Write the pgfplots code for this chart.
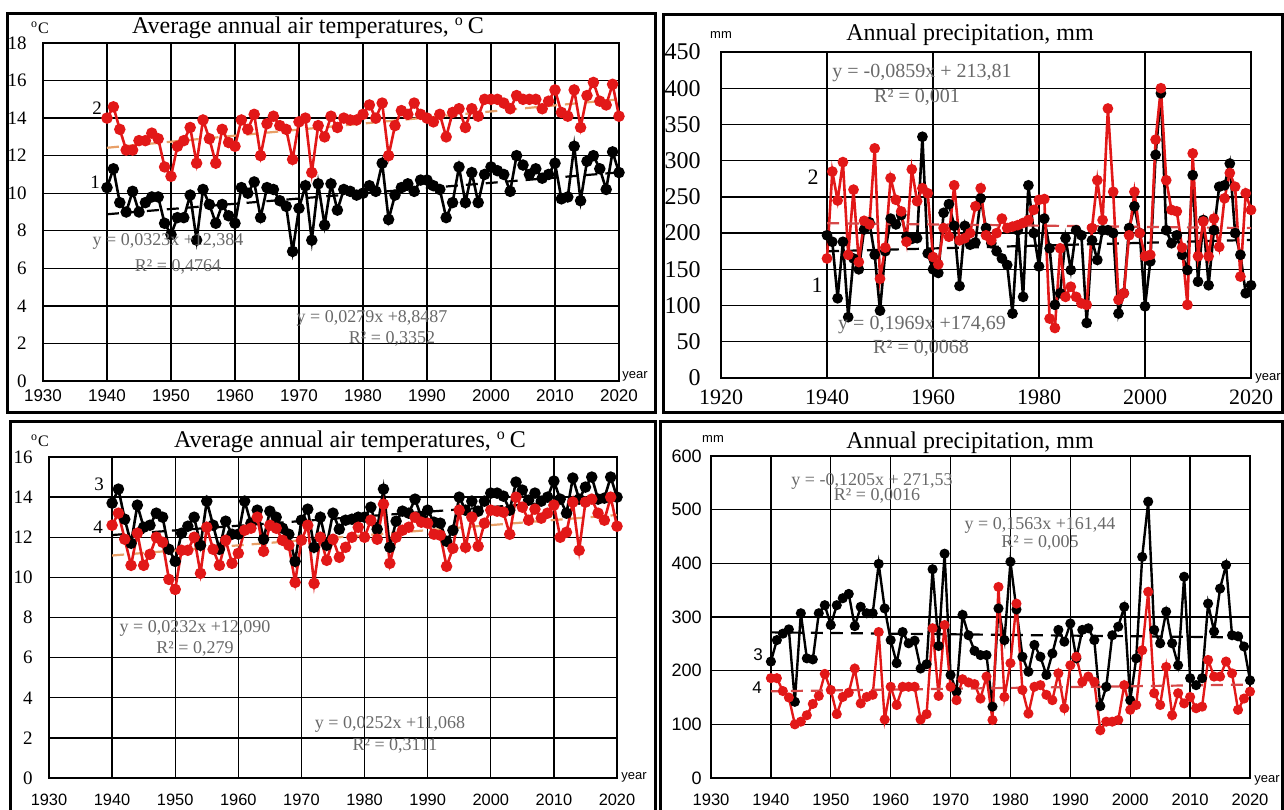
\documentclass[border=0pt]{standalone}
\usepackage{fontspec}
\setmainfont{Liberation Serif}
\newfontfamily\sansf{Liberation Sans}
\usepackage{pgfplots}
\pgfplotsset{compat=1.18}
\usepackage{pgfplotstable}
\definecolor{dred}{RGB}{226,24,24}
\definecolor{trendor}{RGB}{232,160,104}
\definecolor{trendred}{RGB}{214,72,72}
\definecolor{eqgray}{RGB}{105,105,105}

\pgfplotstableread{
year b r
1940 10.3 14.0
1941 11.3 14.6
1942 9.5 13.4
1943 9.0 12.3
1944 10.1 12.3
1945 9.0 12.8
1946 9.5 12.8
1947 9.8 13.2
1948 9.8 12.9
1949 8.4 11.4
1950 7.8 10.9
1951 8.7 12.5
1952 8.7 12.8
1953 9.9 13.5
1954 7.5 11.6
1955 10.2 13.9
1956 9.4 12.9
1957 8.4 11.6
1958 9.4 13.4
1959 8.8 12.7
1960 8.4 12.5
1961 10.3 13.9
1962 10.0 13.4
1963 10.6 14.2
1964 8.7 12.0
1965 10.3 13.7
1966 10.2 14.1
1967 9.6 13.6
1968 9.3 13.4
1969 6.9 11.8
1970 9.2 13.8
1971 10.4 14.0
1972 7.5 11.1
1973 10.5 13.6
1974 8.3 13.0
1975 10.5 14.1
1976 9.1 13.5
1977 10.2 14.0
1978 10.1 13.9
1979 9.9 13.9
1980 10.0 14.2
1981 10.4 14.7
1982 10.1 14.0
1983 11.6 14.8
1984 8.6 12.0
1985 9.9 13.6
1986 10.3 14.4
1987 10.5 14.2
1988 10.1 14.8
1989 10.7 14.2
1990 10.7 14.0
1991 10.4 13.8
1992 10.2 14.2
1993 8.7 13.0
1994 9.5 14.3
1995 11.4 14.5
1996 9.5 13.5
1997 11.1 14.5
1998 9.5 14.1
1999 11.0 15.0
2000 11.4 15.0
2001 11.2 15.0
2002 11.0 14.8
2003 10.1 14.5
2004 12.0 15.2
2005 11.5 15.0
2006 11.0 15.0
2007 11.3 15.0
2008 10.8 14.5
2009 11.0 14.9
2010 11.6 15.5
2011 9.7 14.3
2012 9.8 14.1
2013 12.5 15.5
2014 9.6 13.5
2015 11.7 15.2
2016 12.0 15.9
2017 11.3 14.9
2018 10.2 14.7
2019 12.2 15.8
2020 11.1 14.1
}\tabTL

\pgfplotstableread{
year b r
1940 197 165
1941 188 285
1942 110 245
1943 188 298
1944 84 170
1945 165 260
1946 150 160
1947 205 217
1948 215 212
1949 170 317
1950 93 137
1951 175 180
1952 220 276
1953 212 246
1954 225 230
1955 195 188
1956 192 288
1957 193 244
1958 333 262
1959 172 255
1960 150 167
1961 145 157
1962 228 207
1963 240 195
1964 210 266
1965 127 190
1966 210 193
1967 184 200
1968 187 237
1969 248 262
1970 207 197
1971 186 190
1972 175 200
1973 165 220
1974 156 207
1975 89 209
1976 204 211
1977 112 214
1978 266 218
1979 200 232
1980 154 246
1981 220 247
1982 179 82
1983 101 69
1984 117 179
1985 193 112
1986 149 126
1987 204 112
1988 197 103
1989 76 101
1990 190 207
1991 163 273
1992 204 218
1993 204 372
1994 200 257
1995 89 108
1996 117 117
1997 207 197
1998 237 257
1999 200 200
2000 99 168
2001 161 170
2002 308 329
2003 393 400
2004 204 273
2005 186 232
2006 197 230
2007 170 180
2008 149 101
2009 280 310
2010 133 168
2011 218 216
2012 128 168
2013 204 220
2014 264 181
2015 266 248
2016 296 283
2017 200 264
2018 170 140
2019 117 255
2020 128 232
}\tabTR

\pgfplotstableread{
year b r
1940 13.7 12.6
1941 14.4 13.2
1942 12.9 11.9
1943 11.7 10.6
1944 13.6 12.2
1945 12.5 10.6
1946 12.6 11.15
1947 13.2 12.0
1948 13.0 11.75
1949 11.4 9.9
1950 10.8 9.4
1951 12.2 11.35
1952 12.55 11.35
1953 13.0 12.0
1954 11.6 10.2
1955 13.8 12.5
1956 12.6 11.4
1957 11.4 10.6
1958 12.8 11.85
1959 12.15 10.7
1960 12.15 11.2
1961 13.8 12.35
1962 12.7 12.45
1963 13.35 13.0
1964 11.9 11.3
1965 13.3 12.6
1966 13.0 12.45
1967 12.45 11.85
1968 12.15 11.6
1969 10.8 9.75
1970 12.85 11.85
1971 13.4 12.6
1972 11.5 9.7
1973 13.0 12.0
1974 11.6 10.85
1975 13.2 11.9
1976 12.4 11.0
1977 12.85 11.5
1978 12.9 12.0
1979 13.0 12.5
1980 13.0 12.0
1981 13.5 12.85
1982 12.4 11.9
1983 14.4 13.65
1984 11.5 10.7
1985 12.8 12.0
1986 13.3 12.35
1987 13.2 12.5
1988 13.9 13.0
1989 13.0 12.75
1990 13.35 12.7
1991 12.75 12.15
1992 12.7 12.1
1993 11.8 10.55
1994 12.35 11.45
1995 14.0 13.35
1996 13.35 11.5
1997 13.8 13.0
1998 13.3 11.55
1999 13.8 12.7
2000 14.2 13.35
2001 14.2 13.3
2002 14.05 13.25
2003 13.35 12.15
2004 14.75 14.0
2005 14.35 13.5
2006 13.85 12.85
2007 14.2 13.4
2008 13.8 12.95
2009 14.0 13.2
2010 14.8 13.6
2011 13.9 12.0
2012 13.2 12.25
2013 14.95 13.75
2014 13.9 11.35
2015 14.5 13.75
2016 15.0 13.9
2017 13.9 13.2
2018 13.95 12.85
2019 15.0 14.0
2020 14.0 12.55
}\tabBL

\pgfplotstableread{
year b r
1940 217 186
1941 257 186
1942 269 162
1943 277 150
1944 142 100
1945 307 105
1946 223 117
1947 221 138
1948 307 153
1949 322 194
1950 285 164
1951 322 119
1952 335 151
1953 343 159
1954 283 204
1955 319 139
1956 307 151
1957 307 155
1958 399 272
1959 316 109
1960 257 170
1961 214 136
1962 272 170
1963 251 170
1964 256 170
1965 204 109
1966 212 119
1967 389 279
1968 246 153
1969 418 285
1970 192 170
1971 161 145
1972 304 184
1973 266 178
1974 237 175
1975 229 148
1976 229 189
1977 133 108
1978 316 356
1979 257 151
1980 403 214
1981 314 325
1982 226 164
1983 198 120
1984 248 170
1985 226 173
1986 192 155
1987 232 145
1988 276 195
1989 254 130
1990 288 210
1991 223 226
1992 276 179
1993 279 189
1994 257 179
1995 134 89
1996 170 105
1997 266 105
1998 282 108
1999 319 173
2000 145 127
2001 223 136
2002 412 238
2003 515 347
2004 276 158
2005 251 136
2006 310 207
2007 251 117
2008 210 158
2009 375 139
2010 186 151
2011 173 130
2012 186 133
2013 325 220
2014 273 189
2015 353 189
2016 397 217
2017 266 195
2018 264 127
2019 245 148
2020 182 161
}\tabBR

\pgfplotsset{
  panel/.style={
    scale only axis, anchor=south west, clip=false,
    grid=major, major grid style={black, line width=0.7pt},
    axis line style={black, line width=0.8pt},
    major tick length=0pt, tick style={draw=none},
    xticklabel style={anchor=center},
    yticklabel style={anchor=east, inner sep=0pt},
  },
  blk/.style={black, line width=1.3pt, mark=*, mark size=2.2pt, mark options={solid, fill=black, draw=black}},
  rd/.style={dred, line width=1.3pt, mark=*, mark size=2.2pt, mark options={solid, fill=dred, draw=dred}},
  trb/.style={black, line width=1.1pt, dash pattern=on 6pt off 4pt},
}

\begin{document}
\begin{tikzpicture}
\useasboundingbox (0,0) rectangle (642pt,404.5pt);

% ---------- top left ----------
\begin{axis}[panel, at={(21.5pt,214pt)}, width=288pt, height=169pt,
  xmin=1930, xmax=2020, ymin=0, ymax=18,
  xtick={1930,1940,1950,1960,1970,1980,1990,2000,2010,2020},
  xticklabels={1930,1940,1950,1960,1970,1980,1990,2000,2010,2020},
  ytick={0,2,4,6,8,10,12,14,16,18},
  yticklabels={0,2,4,6,8,10,12,14,16,18},
  xticklabel style={font=\sansf\fontsize{8.5}{10}\selectfont, yshift=-7.5pt},
  yticklabel style={font=\fontsize{9.5}{11}\selectfont, xshift=-8pt},
]
\addplot[trb] coordinates {(1940,8.88) (2020,11.11)};
\addplot[trb, trendor] coordinates {(1940,12.42) (2020,15.0)};
\addplot[blk] table[x=year,y=b] {\tabTL};
\addplot[rd] table[x=year,y=r] {\tabTL};
\end{axis}

% ---------- top right ----------
\begin{axis}[panel, at={(360.5pt,215.5pt)}, width=265pt, height=163pt,
  xmin=1920, xmax=2020, ymin=0, ymax=450,
  xtick={1920,1940,1960,1980,2000,2020},
  xticklabels={1920,1940,1960,1980,2000,2020},
  ytick={0,50,100,150,200,250,300,350,400,450},
  yticklabels={0,50,100,150,200,250,300,350,400,450},
  xticklabel style={font=\fontsize{11}{12}\selectfont, yshift=-9.5pt},
  yticklabel style={font=\fontsize{12}{13}\selectfont, xshift=-10pt},
]
\addplot[trb] coordinates {(1940,174.9) (2020,190.6)};
\addplot[blk, mark size=2pt] table[x=year,y=b] {\tabTR};
\addplot[rd, mark size=2pt] table[x=year,y=r] {\tabTR};
\addplot[trb, trendred] coordinates {(1940,213.7) (2020,206.9)};
\end{axis}

% ---------- bottom left ----------
\begin{axis}[panel, at={(24.5pt,15.5pt)}, width=284pt, height=160.5pt,
  xmin=1930, xmax=2020, ymin=0, ymax=16,
  xtick={1930,1940,1950,1960,1970,1980,1990,2000,2010,2020},
  xticklabels={1930,1940,1950,1960,1970,1980,1990,2000,2010,2020},
  ytick={0,2,4,6,8,10,12,14,16},
  yticklabels={0,2,4,6,8,10,12,14,16},
  xticklabel style={font=\sansf\fontsize{8.2}{10}\selectfont, yshift=-11pt},
  yticklabel style={font=\fontsize{9.5}{11}\selectfont, xshift=-8pt},
]
\addplot[trb] coordinates {(1940,12.11) (2020,13.97)};
\addplot[trb, trendor] coordinates {(1940,11.09) (2020,13.11)};
\addplot[blk] table[x=year,y=b] {\tabBL};
\addplot[rd] table[x=year,y=r] {\tabBL};
\end{axis}

% ---------- bottom right ----------
\begin{axis}[panel, at={(355.5pt,15.5pt)}, width=269.5pt, height=161pt,
  xmin=1930, xmax=2020, ymin=0, ymax=600,
  xtick={1930,1940,1950,1960,1970,1980,1990,2000,2010,2020},
  xticklabels={1930,1940,1950,1960,1970,1980,1990,2000,2010,2020},
  ytick={0,100,200,300,400,500,600},
  yticklabels={0,100,200,300,400,500,600},
  xticklabel style={font=\sansf\fontsize{8.3}{10}\selectfont, yshift=-11pt},
  yticklabel style={font=\sansf\fontsize{9}{10}\selectfont, xshift=-4.5pt},
]
\addplot[trb] coordinates {(1940,271.4) (2020,261.8)};
\addplot[blk, line width=1.2pt, mark size=1.9pt] table[x=year,y=b] {\tabBR};
\addplot[rd, line width=1.2pt, mark size=1.9pt] table[x=year,y=r] {\tabBR};
\addplot[trb, trendred] coordinates {(1940,161.6) (2020,174.1)};
\end{axis}

% ---------- frames and texts (pixel coordinates) ----------
\begin{scope}[x=0.5pt, y=-0.5pt, shift={(0pt,404.5pt)}]
\draw[line width=1.5pt] (7,14) rectangle (655,413);
\draw[line width=1.5pt] (663,15) rectangle (1282,413);
\draw[line width=1.5pt] (10,422) rectangle (655,814);
\draw[line width=1.5pt] (660,422) rectangle (1282,814);

\begin{scope}[every node/.style={inner sep=0pt}]
% titles
\node[anchor=base, font=\fontsize{12}{14}\selectfont] at (308,34) {Average annual air temperatures, \textsuperscript{o}\,C};
\node[anchor=base, font=\fontsize{12}{14}\selectfont] at (970,41) {Annual precipitation, mm};
\node[anchor=base, font=\fontsize{12}{14}\selectfont] at (350,448) {Average annual air temperatures, \textsuperscript{o}\,C};
\node[anchor=base, font=\fontsize{12}{14}\selectfont] at (970,449) {Annual precipitation, mm};
% units
\node[font=\fontsize{8}{9}\selectfont] at (40,28) {\textsuperscript{o}C};
\node[font=\fontsize{8}{9}\selectfont] at (40,441) {\textsuperscript{o}C};
\node[font=\sansf\fontsize{6.5}{7}\selectfont] at (721,35) {mm};
\node[font=\sansf\fontsize{6.5}{7}\selectfont] at (713,439) {mm};
\node[font=\sansf\fontsize{6.5}{7}\selectfont] at (635,376) {year};
\node[font=\sansf\fontsize{6.5}{7}\selectfont] at (1268,378) {year};
\node[font=\sansf\fontsize{6.5}{7}\selectfont] at (634,777) {year};
\node[font=\sansf\fontsize{6.5}{7}\selectfont] at (1267,780) {year};
% series numbers
\node[font=\fontsize{9.5}{11}\selectfont] at (97,108) {2};
\node[font=\fontsize{9.5}{11}\selectfont] at (95,182) {1};
\node[font=\fontsize{11}{12}\selectfont] at (813,177) {2};
\node[font=\fontsize{11}{12}\selectfont] at (817,285) {1};
\node[font=\fontsize{9.5}{11}\selectfont] at (99,484) {3};
\node[font=\fontsize{9.5}{11}\selectfont] at (98,527) {4};
\node[font=\sansf\fontsize{8.5}{10}\selectfont] at (758,655) {3};
\node[font=\sansf\fontsize{8.5}{10}\selectfont] at (757,688) {4};
% equations
\begin{scope}[every node/.append style={text=eqgray, font=\fontsize{9}{10}\selectfont}]
\node at (168,241) {y = 0,0323x +12,384};
\node at (178,267) {R² = 0,4764};
\node at (372,318) {y = 0,0279x +8,8487};
\node at (392,339) {R² = 0,3352};
\node[font=\fontsize{10}{11}\selectfont] at (922,73) {y = -0,0859x + 213,81};
\node[font=\fontsize{10}{11}\selectfont] at (917,97) {R² = 0,001};
\node[font=\fontsize{10}{11}\selectfont] at (922,325) {y = 0,1969x +174,69};
\node[font=\fontsize{10}{11}\selectfont] at (921,348) {R² = 0,0068};
\node at (195,628) {y = 0,0232x +12,090};
\node at (195,649) {R² = 0,279};
\node at (390,724) {y = 0,0252x +11,068};
\node at (395,746) {R² = 0,3111};
\node at (872,481) {y = -0,1205x + 271,53};
\node at (877,496) {R² = 0,0016};
\node at (1040,525) {y = 0,1563x +161,44};
\node at (1040,543) {R² = 0,005};
\end{scope}
\end{scope}
\end{scope}
\end{tikzpicture}
\end{document}
